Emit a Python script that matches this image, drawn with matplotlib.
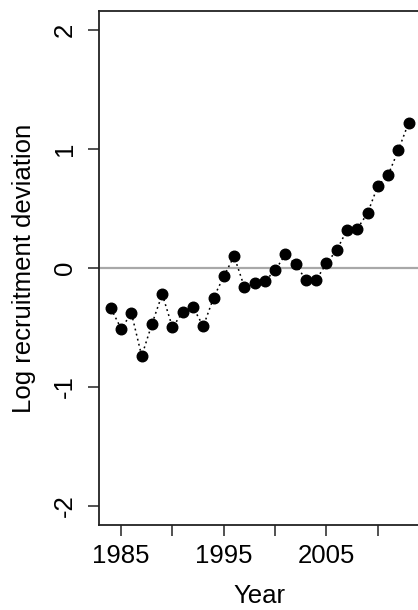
import matplotlib.pyplot as plt

years = list(range(1984, 2014))
log_dev = [-0.34, -0.51, -0.38, -0.74, -0.47, -0.22, -0.50, -0.37, -0.33, -0.49,
           -0.25, -0.07, 0.10, -0.16, -0.13, -0.11, -0.02, 0.115, 0.03, -0.10,
           -0.10, 0.04, 0.15, 0.32, 0.33, 0.46, 0.69, 0.78, 0.99, 1.22]

x_ticks = [1985, 1990, 1995, 2000, 2005, 2010]
x_labels = ['1985', '', '1995', '', '2005', '']
y_ticks = [-2, -1, 0, 1, 2]

plt.rcParams['font.family'] = ['Liberation Sans', 'DejaVu Sans']

fig = plt.figure(figsize=(4.18, 6.10), dpi=100)
# zone du graphique (le bord droit sort un peu de l'image, comme l'original)
ax = fig.add_axes([99 / 418, 85 / 610, (420.5 - 99) / 418, (525 - 11) / 610])

ax.axhline(0, color='#a8a8a8', lw=1.6, zorder=1)
ax.plot(years, log_dev, color='black', ls=(0, (1.2, 2.2)), lw=1.1, zorder=2)
ax.plot(years, log_dev, 'o', color='black', ms=7.6, zorder=3)

ax.set_xlim(1982.84, 2014.16)
ax.set_ylim(-2.16, 2.16)

ax.set_xticks(x_ticks)
ax.set_xticklabels(x_labels)
ax.set_yticks(y_ticks)
ax.set_yticklabels([str(v) for v in y_ticks], rotation=90, va='center')

ax.tick_params(axis='both', length=8, width=1.1, color='#222222',
               labelsize=18.5, direction='out')
ax.tick_params(axis='x', pad=6)
ax.tick_params(axis='y', pad=8)

for s in ax.spines.values():
    s.set_linewidth(1.3)
    s.set_color('#222222')

ax.set_xlabel('Year', fontsize=18.5, labelpad=11.5)
ax.set_ylabel('Log recruitment deviation', fontsize=18.5, labelpad=12)

fig.savefig('out.png', dpi=100)
